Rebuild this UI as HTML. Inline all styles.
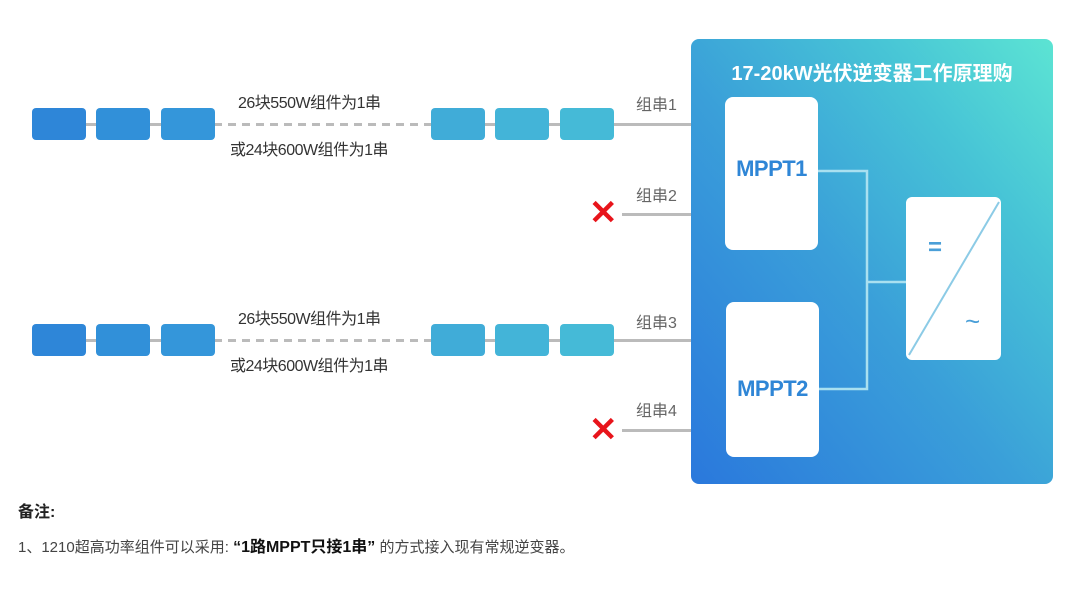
<!DOCTYPE html>
<html><head><meta charset="utf-8"><style>
*{margin:0;padding:0;box-sizing:border-box}
body{width:1080px;height:598px;background:#fff;position:relative;overflow:hidden;font-family:"Liberation Sans","Noto Sans CJK SC",sans-serif}
.a{position:absolute}
.p{position:absolute;height:32px;width:54px;border-radius:4px}
.t{position:absolute;font-size:16px;color:#333;white-space:nowrap;letter-spacing:-0.5px}
.g{position:absolute;font-size:16px;color:#666;white-space:nowrap}
.ln{position:absolute;height:3px;background:#bbb}
.x{position:absolute;color:#e8141b;font-size:34px;font-weight:bold;line-height:1}
.w{position:absolute;background:#fff;border-radius:8px}
</style></head><body>
<div class="a" style="left:691px;top:39px;width:362px;height:445px;border-radius:8px;background:linear-gradient(to top right,#2a78dc 0%,#3a9fd9 45%,#47c4d6 75%,#5ce4d3 100%)"></div>
<div class="a" style="left:691px;top:57px;width:362px;text-align:center;color:#fff;font-size:20px;font-weight:bold">17-20kW光伏逆变器工作原理购</div>

<svg class="a" style="left:0;top:0" width="1080" height="598">
<line x1="214" y1="124.5" x2="431" y2="124.5" stroke="#bbb" stroke-width="3" stroke-dasharray="8,6"/>
<line x1="214" y1="340.5" x2="431" y2="340.5" stroke="#bbb" stroke-width="3" stroke-dasharray="8,6"/>
</svg>
<!-- row 1 -->
<div class="ln" style="left:40px;top:123px;width:175px"></div>
<div class="ln" style="left:440px;top:123px;width:251px"></div>
<div class="p" style="left:32px;top:108px;background:#2e86d8"></div>
<div class="p" style="left:96px;top:108px;background:#3190d9"></div>
<div class="p" style="left:161px;top:108px;background:#3496da"></div>
<div class="p" style="left:431px;top:108px;background:#40acd8"></div>
<div class="p" style="left:495px;top:108px;background:#43b4d8"></div>
<div class="p" style="left:560px;top:108px;background:#45bad7"></div>
<div class="t" style="left:238px;top:89px">26块550W组件为1串</div>
<div class="t" style="left:230px;top:136px">或24块600W组件为1串</div>
<div class="g" style="left:636px;top:91px">组串1</div>
<!-- row 2 -->
<div class="ln" style="left:622px;top:213px;width:69px"></div>
<div class="x" style="left:589px;top:196px">✕</div>
<div class="g" style="left:636px;top:182px">组串2</div>
<!-- row 3 -->
<div class="ln" style="left:40px;top:339px;width:175px"></div>
<div class="ln" style="left:440px;top:339px;width:251px"></div>
<div class="p" style="left:32px;top:324px;background:#2e86d8"></div>
<div class="p" style="left:96px;top:324px;background:#3190d9"></div>
<div class="p" style="left:161px;top:324px;background:#3496da"></div>
<div class="p" style="left:431px;top:324px;background:#40acd8"></div>
<div class="p" style="left:495px;top:324px;background:#43b4d8"></div>
<div class="p" style="left:560px;top:324px;background:#45bad7"></div>
<div class="t" style="left:238px;top:305px">26块550W组件为1串</div>
<div class="t" style="left:230px;top:352px">或24块600W组件为1串</div>
<div class="g" style="left:636px;top:309px">组串3</div>
<!-- row 4 -->
<div class="ln" style="left:622px;top:429px;width:69px"></div>
<div class="x" style="left:589px;top:413px">✕</div>
<div class="g" style="left:636px;top:397px">组串4</div>

<svg class="a" style="left:0;top:0" width="1080" height="598">
<polyline points="818,171 867,171 867,389 819,389" fill="none" stroke="#a9e0f0" stroke-width="2.5"/>
<line x1="867" y1="282" x2="906" y2="282" stroke="#a9e0f0" stroke-width="2.5"/>
</svg>
<div class="w" style="left:725px;top:97px;width:93px;height:153px"></div>
<div class="w" style="left:726px;top:302px;width:93px;height:155px"></div>
<div class="a" style="left:722px;top:156px;width:99px;text-align:center;color:#2f86d6;font-size:22px;font-weight:bold;letter-spacing:-0.5px">MPPT1</div>
<div class="a" style="left:723px;top:376px;width:99px;text-align:center;color:#2f86d6;font-size:22px;font-weight:bold;letter-spacing:-0.5px">MPPT2</div>
<div class="w" style="left:906px;top:197px;width:95px;height:163px;border-radius:6px"></div>
<svg class="a" style="left:906px;top:197px" width="95" height="163">
<line x1="93" y1="5" x2="3" y2="158" stroke="#8ccbe6" stroke-width="2"/>
</svg>
<div class="a" style="left:928px;top:234px;color:#4a9fd8;font-size:24px;font-weight:bold">=</div>
<div class="a" style="left:965px;top:306px;color:#4a9fd8;font-size:26px">~</div>

<div class="a" style="left:18px;top:498px;font-size:16px;font-weight:bold;color:#222">备注:</div>
<div class="a" style="left:18px;top:533px;font-size:15px;color:#444;white-space:nowrap">1、1210超高功率组件可以采用: <b style="color:#111;font-size:16px">“1路MPPT只接1串”</b> 的方式接入现有常规逆变器。</div>
</body></html>
